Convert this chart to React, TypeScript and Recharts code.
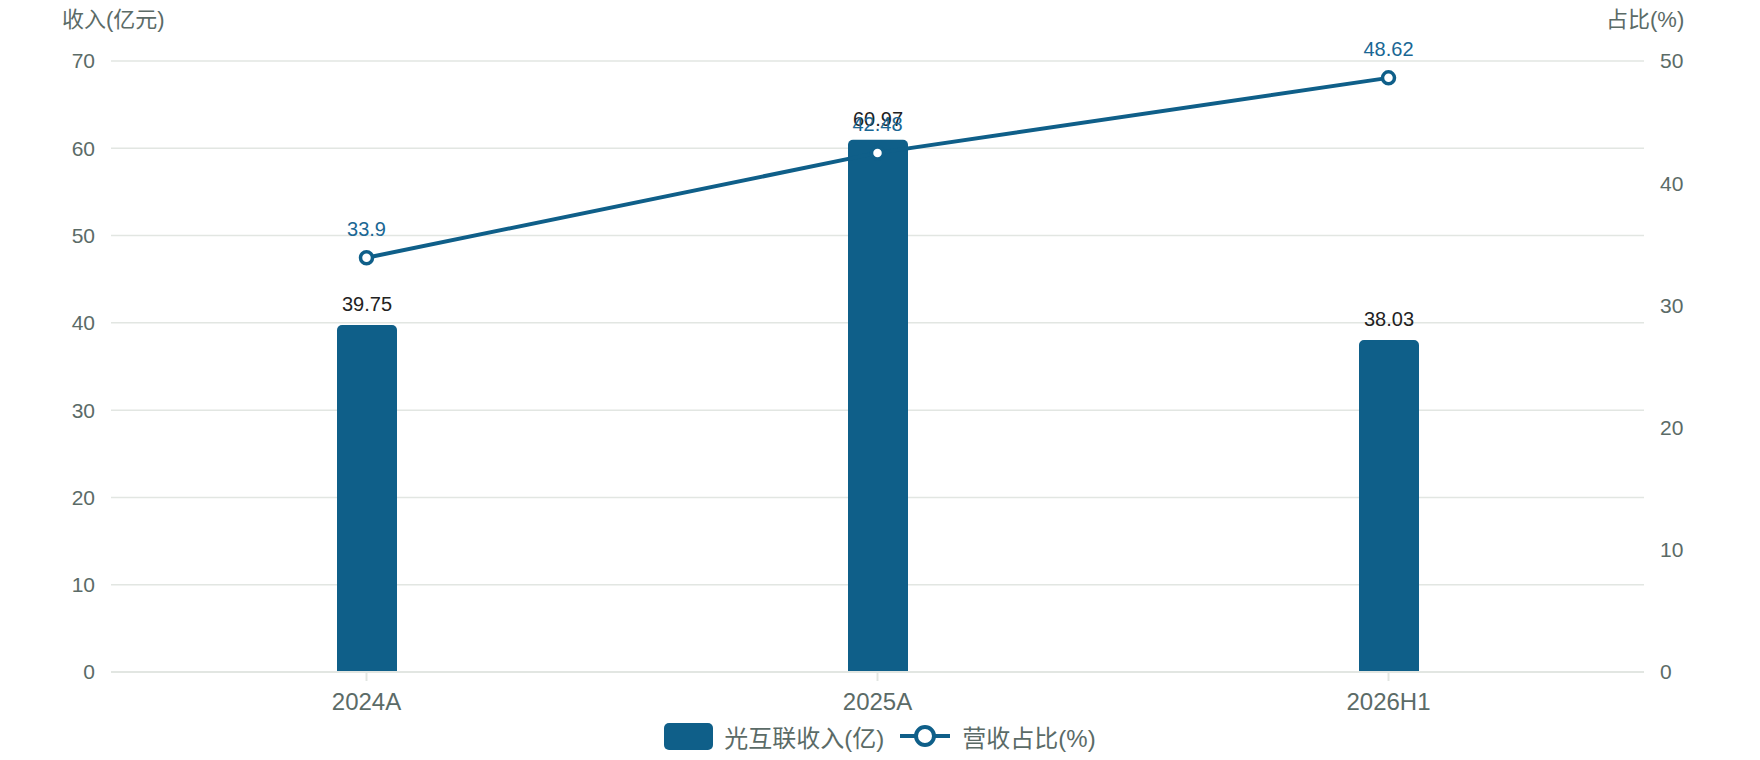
import React from "react";
import {
  ComposedChart,
  Bar,
  Line,
  XAxis,
  YAxis,
  CartesianGrid,
  Legend,
  LabelList,
} from "recharts";

const periods = ["2024A", "2025A", "2026H1"];
const revenue = [39.75, 60.97, 38.03];
const share = [33.9, 42.48, 48.62];
const leftTicks = [0, 10, 20, 30, 40, 50, 60, 70];
const rightTicks = [0, 10, 20, 30, 40, 50];

const data = periods.map((p, i) => ({
  period: p,
  revenue: revenue[i],
  share: share[i],
}));

const BLUE = "#0f5f89";
const GRID = "#e2e6e2";
const GREY = "#5b6b67";
const FONT = '"Liberation Sans", "Noto Sans CJK SC", sans-serif';

function LegendContent() {
  return (
    <div
      style={{
        height: 38,
        display: "flex",
        justifyContent: "center",
        alignItems: "flex-start",
        fontFamily: FONT,
        fontSize: 24,
        color: GREY,
      }}
    >
      <div style={{ display: "flex", alignItems: "center", height: 28 }}>
        <div
          style={{
            width: 49,
            height: 27,
            borderRadius: 5,
            background: BLUE,
            marginRight: 11,
          }}
        />
        <span>光互联收入(亿)</span>
      </div>
      <div
        style={{
          display: "flex",
          alignItems: "center",
          height: 28,
          marginLeft: 16,
        }}
      >
        <svg width={50} height={28} style={{ marginRight: 12 }}>
          <line x1={0} y1={14} x2={50} y2={14} stroke={BLUE} strokeWidth={4} />
          <circle cx={25} cy={14} r={9} fill="#fff" stroke={BLUE} strokeWidth={4} />
        </svg>
        <span>营收占比(%)</span>
      </div>
    </div>
  );
}

export default function App() {
  return (
    <div
      style={{
        position: "absolute",
        left: 0,
        top: 0,
        width: 1760,
        height: 760,
        background: "#fff",
        fontFamily: FONT,
      }}
    >
      <div
        style={{
          position: "absolute",
          left: 62,
          top: 6,
          fontSize: 22,
          color: GREY,
          lineHeight: "28px",
        }}
      >
        收入(亿元)
      </div>
      <div
        style={{
          position: "absolute",
          left: 1606,
          top: 6,
          fontSize: 22,
          color: GREY,
          lineHeight: "28px",
        }}
      >
        占比(%)
      </div>
      <ComposedChart
        width={1760}
        height={760}
        data={data}
        margin={{ top: 61, right: 0, bottom: 0, left: 0 }}
      >
        <CartesianGrid
          yAxisId="left"
          vertical={false}
          stroke={GRID}
          strokeWidth={1.5}
        />
        <XAxis
          dataKey="period"
          height={50}
          axisLine={{ stroke: GRID, strokeWidth: 2 }}
          tickLine={{ stroke: GRID, strokeWidth: 2 }}
          tickSize={9}
          tickMargin={12}
          tick={{ fill: GREY, fontSize: 24 }}
        />
        <YAxis
          yAxisId="left"
          domain={[0, 70]}
          ticks={leftTicks}
          width={111}
          axisLine={false}
          tickLine={false}
          tickSize={0}
          tickMargin={16}
          tick={{ fill: GREY, fontSize: 21 }}
        />
        <YAxis
          yAxisId="right"
          orientation="right"
          domain={[0, 50]}
          ticks={rightTicks}
          width={116}
          axisLine={false}
          tickLine={false}
          tickSize={0}
          tickMargin={16}
          tick={{ fill: GREY, fontSize: 21 }}
        />
        <Legend verticalAlign="bottom" content={<LegendContent />} />
        <Bar
          yAxisId="left"
          dataKey="revenue"
          name="光互联收入(亿)"
          fill={BLUE}
          barSize={60}
          radius={[5, 5, 0, 0]}
          isAnimationActive={false}
        >
          <LabelList
            dataKey="revenue"
            position="top"
            offset={14}
            fill="#222"
            fontSize={20}
          />
        </Bar>
        <Line
          yAxisId="right"
          dataKey="share"
          name="营收占比(%)"
          stroke={BLUE}
          strokeWidth={4}
          dot={{ r: 6, fill: "#fff", stroke: BLUE, strokeWidth: 3.5 }}
          activeDot={false}
          isAnimationActive={false}
        >
          <LabelList
            dataKey="share"
            position="top"
            offset={22}
            fill="#1a6794"
            fontSize={20}
          />
        </Line>
      </ComposedChart>
    </div>
  );
}
